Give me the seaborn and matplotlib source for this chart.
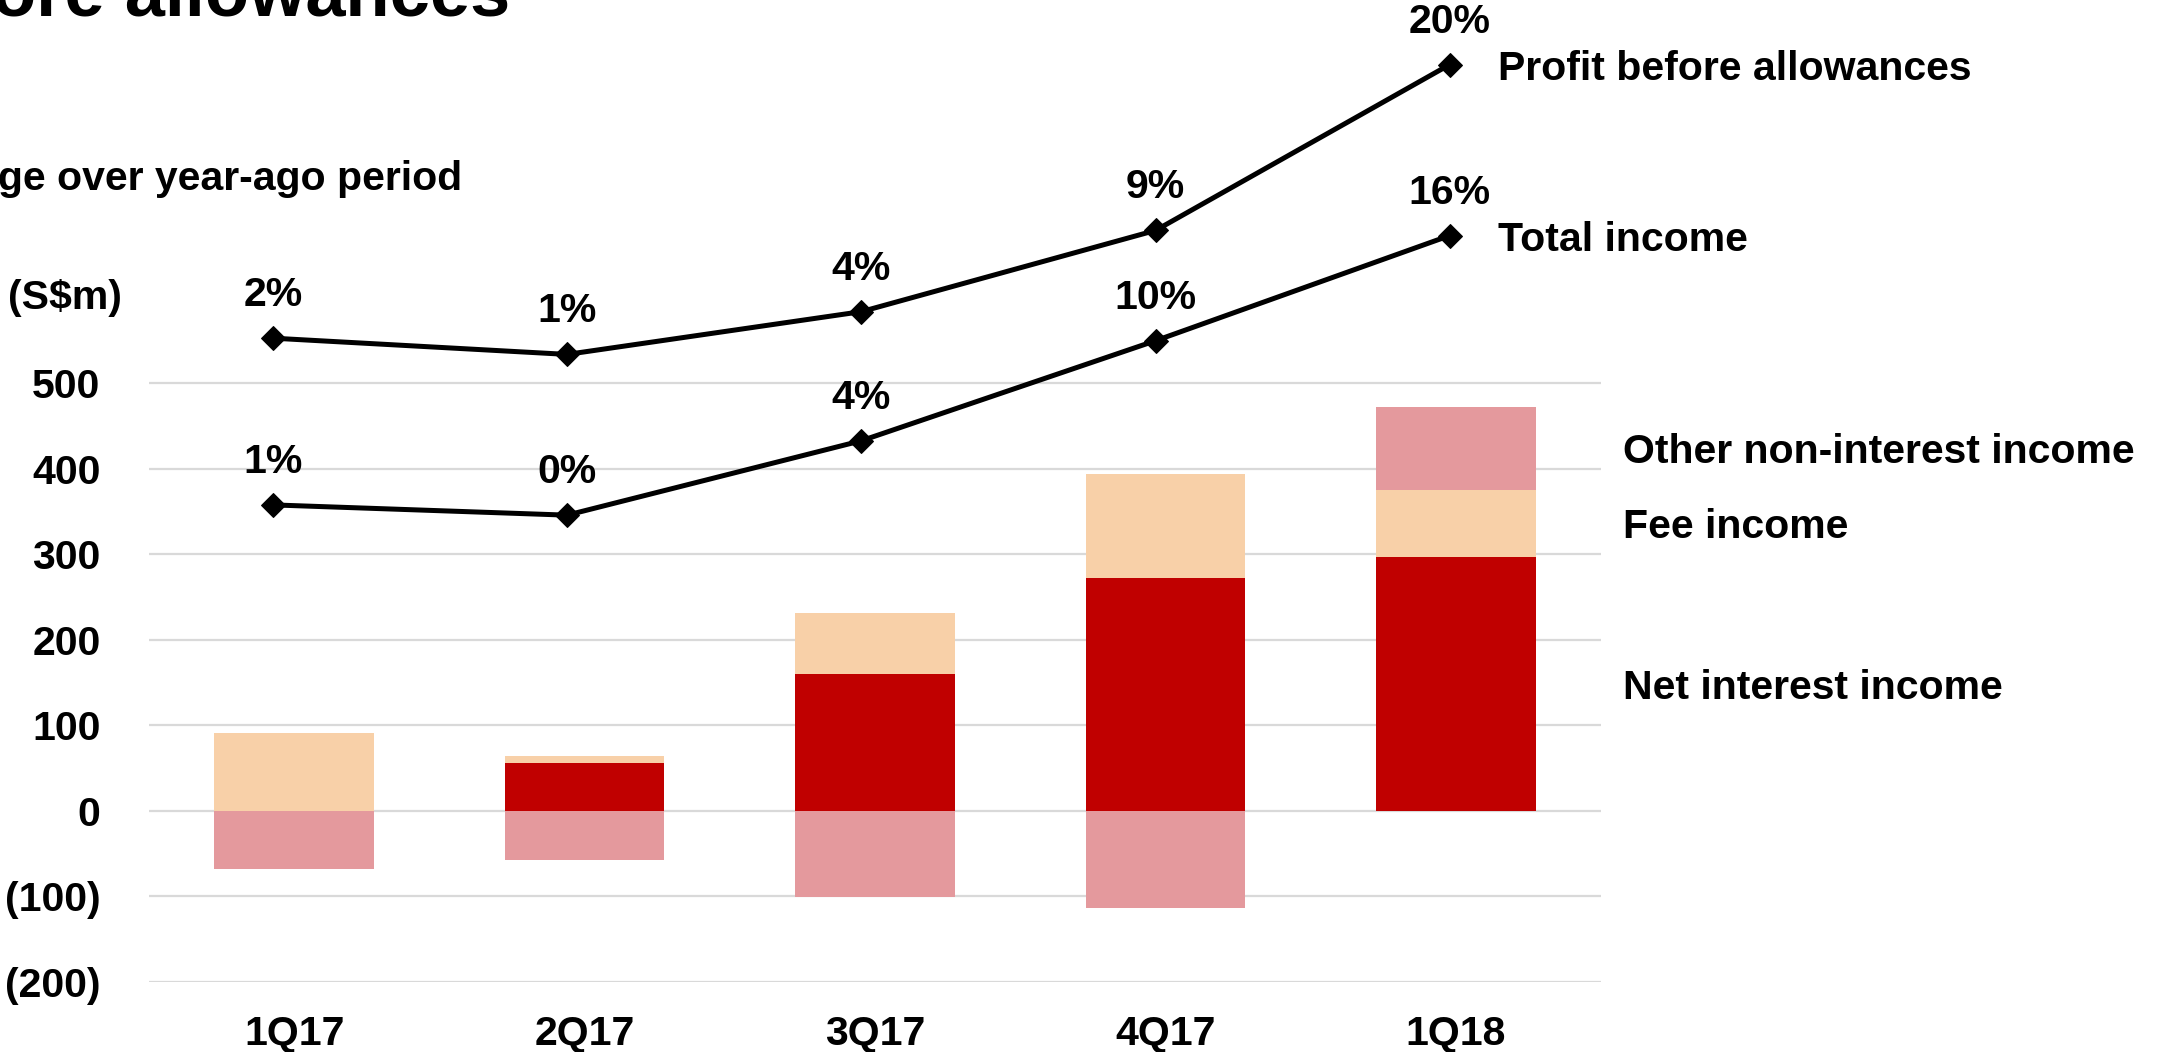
import numpy as np
import pandas as pd
import matplotlib
matplotlib.use("Agg")
import matplotlib.pyplot as plt
import seaborn as sns

# ---------------- data ----------------
quarters = ["1Q17", "2Q17", "3Q17", "4Q17", "1Q18"]
net_interest = [0, 56, 160, 273, 297]
fee_income = [91, 8, 71, 121, 79]
other_nonint = [-68, -57, -101, -114, 97]
total_income = [358, 346, 433, 550, 673]
profit_before = [553, 534, 584, 679, 873]
total_pct = ["1%", "0%", "4%", "10%", "16%"]
profit_pct = ["2%", "1%", "4%", "9%", "20%"]
ytick_vals = [-200, -100, 0, 100, 200, 300, 400, 500]
ytick_labels = ["(200)", "(100)", "0", "100", "200", "300", "400", "500"]
bar_series = ["Net interest income", "Fee income", "Other non-interest income"]
line_series = ["Profit before allowances", "Total income"]

# ---------------- style ----------------
sns.set_theme(style="white")
plt.rcParams["font.family"] = ["Liberation Sans", "DejaVu Sans"]
plt.rcParams["font.weight"] = "bold"
plt.rcParams["text.color"] = "black"
plt.rcParams["xtick.color"] = "black"
plt.rcParams["ytick.color"] = "black"

RED = "#C00000"
PEACH = "#F8D0A8"
PINK = "#E4999D"
GRID = "#D9D9D9"
FS = 29.5

fig = plt.figure(figsize=(21.61, 10.52), dpi=100)
ax = fig.add_axes([149 / 2161, 1 - 982 / 1052, 1452 / 2161, 982 / 1052])

# stacked bars by layering cumulative heights
pos_other = [max(o, 0) for o in other_nonint]
neg_other = [min(o, 0) for o in other_nonint]
lvl2 = [n + f for n, f in zip(net_interest, fee_income)]
lvl3 = [a + p for a, p in zip(lvl2, pos_other)]

bw = 0.55
sns.barplot(x=quarters, y=lvl3, color=PINK, saturation=1, width=bw, linewidth=0, ax=ax)
sns.barplot(x=quarters, y=lvl2, color=PEACH, saturation=1, width=bw, linewidth=0, ax=ax)
sns.barplot(x=quarters, y=net_interest, color=RED, saturation=1, width=bw, linewidth=0, ax=ax)
sns.barplot(x=quarters, y=neg_other, color=PINK, saturation=1, width=bw, linewidth=0, ax=ax)

ax.set_xlim(-0.5, 4.5)
ax.set_ylim(-200, 948.5)
ax.set_yticks(ytick_vals)
ax.set_yticklabels(ytick_labels)
ax.yaxis.grid(True, color=GRID, linewidth=1.6)
ax.xaxis.grid(False)
ax.set_axisbelow(True)
for s in ax.spines.values():
    s.set_visible(False)
ax.tick_params(axis="y", length=0, pad=35, labelsize=FS, labelcolor="black")
ax.tick_params(axis="x", length=0, pad=24, labelsize=FS, labelcolor="black")
for t in ax.get_xticklabels() + ax.get_yticklabels():
    t.set_fontweight("bold")
ax.set_xlabel("")
ax.set_ylabel("")

# right-side bar labels at middle of last bar's segments
last = len(quarters) - 1
mids = [net_interest[last] / 2,
        net_interest[last] + fee_income[last] / 2,
        lvl2[last] + pos_other[last] / 2]
for name, m in zip(bar_series, mids):
    ax.annotate(name, xy=(1.0152, m), xycoords=("axes fraction", "data"),
                xytext=(0, -10.5), textcoords="offset points",
                ha="left", va="baseline", fontsize=FS, fontweight="bold",
                color="black", annotation_clip=False)

# lines on a twin x axis (slightly offset category alignment)
ax2 = ax.twiny()
ax2.set_xlim(-0.421, 4.514)
xpos = np.arange(len(quarters))
for vals, pcts, name in [(profit_before, profit_pct, line_series[0]),
                         (total_income, total_pct, line_series[1])]:
    sns.lineplot(x=xpos, y=vals, ax=ax2, color="black", linewidth=3.6,
                 marker="D", markersize=12.5, markeredgecolor="black")
    for xi, v, p in zip(xpos, vals, pcts):
        ax2.annotate(p, xy=(xi, v), xytext=(0, 23), textcoords="offset points",
                     ha="center", va="baseline", fontsize=FS, fontweight="bold",
                     color="black", annotation_clip=False)
    ax2.annotate(name, xy=(xpos[-1], vals[-1]), xytext=(35, -11),
                 textcoords="offset points", ha="left", va="baseline",
                 fontsize=FS, fontweight="bold", color="black",
                 annotation_clip=False)
ax2.set_xticks([])
ax2.set_ylim(-200, 948.5)
for s in ax2.spines.values():
    s.set_visible(False)
ax2.grid(False)

# header texts
fig.text(510 / 2161, 1 - 15 / 1052, "ore allowances", ha="right", va="baseline",
         fontsize=52, fontweight="bold", color="black")
fig.text(462 / 2161, 1 - 179 / 1052, "ge over year-ago period", ha="right",
         va="center", fontsize=FS, fontweight="bold", color="black")
fig.text(65 / 2161, 1 - 298 / 1052, "(S$m)", ha="center", va="center",
         fontsize=FS, fontweight="bold", color="black")

fig.savefig("out.png", dpi=100)
